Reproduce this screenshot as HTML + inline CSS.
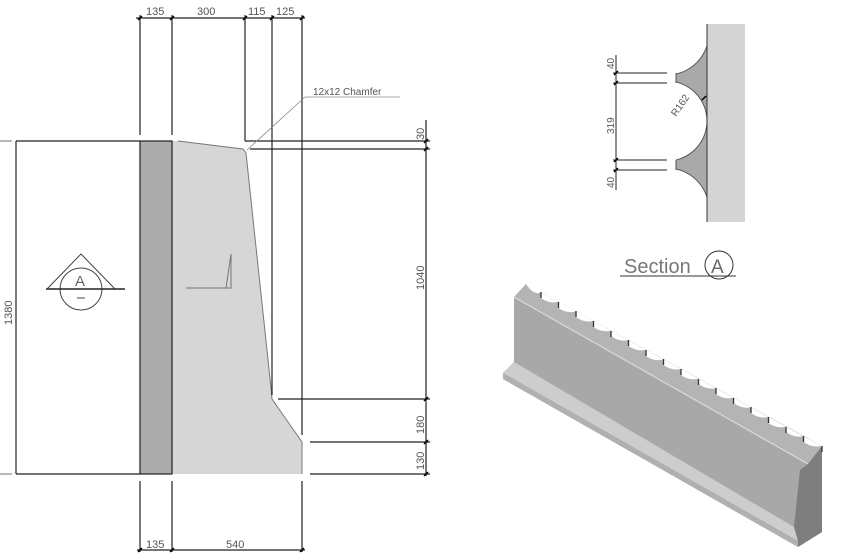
<!DOCTYPE html>
<html><head><style>html,body{margin:0;padding:0;background:#fff}svg{display:block}</style></head><body>
<svg width="850" height="557" viewBox="0 0 850 557" xmlns="http://www.w3.org/2000/svg" font-family="Liberation Sans, sans-serif">
<defs><clipPath id="wl"><rect x="676" y="24" width="31" height="198"/></clipPath></defs>
<!-- elevation -->
<rect x="140" y="141" width="32" height="333" fill="#acacac"/>
<polygon points="172,141 178,141 243,149 246,153 271,388 272,399 302,442 302,474 172,474" fill="#d6d6d6"/>
<polyline points="178,141 243,149 246,153 271,388 272,399 302,442 302,474" fill="none" stroke="#777" stroke-width="1"/>
<g stroke="#222" stroke-width="1.2" fill="none">
<rect x="140" y="141" width="32" height="333"/>
<line x1="0" y1="141" x2="12" y2="141" stroke="#888"/>
<line x1="16" y1="141" x2="140" y2="141"/>
<line x1="16" y1="474" x2="140" y2="474"/>
<line x1="0" y1="474" x2="12" y2="474" stroke="#888"/>
<line x1="16" y1="141" x2="16" y2="474"/>
<line x1="140" y1="15" x2="140" y2="135"/>
<line x1="172" y1="15" x2="172" y2="135"/>
<line x1="245" y1="15" x2="245" y2="141"/>
<line x1="272" y1="15" x2="272" y2="395"/>
<line x1="302" y1="15" x2="302" y2="435"/>
<line x1="136" y1="18" x2="305" y2="18"/>
<line x1="140" y1="481" x2="140" y2="552"/>
<line x1="172" y1="481" x2="172" y2="552"/>
<line x1="302" y1="481" x2="302" y2="552"/>
<line x1="137" y1="550" x2="305" y2="550"/>
<line x1="245" y1="141" x2="430" y2="141"/>
<line x1="250" y1="149" x2="430" y2="149"/>
<line x1="278" y1="399" x2="430" y2="399"/>
<line x1="310" y1="442" x2="430" y2="442"/>
<line x1="310" y1="474" x2="430" y2="474"/>
<line x1="426" y1="120" x2="426" y2="476"/>
</g>
<g stroke="#000" stroke-width="1.5">
<path d="M138 20l4-4M170 20l4-4M243 20l4-4M270 20l4-4M300 20l4-4M138 552l4-4M170 552l4-4M300 552l4-4M424 143l4-4M424 151l4-4M424 401l4-4M424 444l4-4M424 476l4-4"/>
</g>
<line x1="247" y1="150" x2="305" y2="97" stroke="#888" stroke-width="0.8"/>
<line x1="305" y1="97" x2="400" y2="97" stroke="#888" stroke-width="0.8"/>
<g fill="#555" font-size="11">
<text x="146" y="15">135</text><text x="197" y="15">300</text><text x="248" y="15">115</text><text x="276" y="15">125</text>
<text x="146" y="548">135</text><text x="226" y="548">540</text>
<text x="313" y="95" font-size="10">12x12  Chamfer</text>
<text transform="translate(12,325) rotate(-90)">1380</text>
<text transform="translate(424,140) rotate(-90)">30</text>
<text transform="translate(424,290) rotate(-90)">1040</text>
<text transform="translate(424,434) rotate(-90)">180</text>
<text transform="translate(424,470) rotate(-90)">130</text>
</g>
<g stroke="#444" fill="none" stroke-width="1">
<polyline points="47,289 81,254 115,289"/>
<circle cx="81" cy="289" r="21"/>
<line x1="46" y1="289" x2="125" y2="289" stroke="#222" stroke-width="1.5"/>
<line x1="77" y1="298" x2="85" y2="298"/>
<polyline points="186,288 231,288 231,254 226,288" stroke="#777"/>
</g>
<text x="75" y="286" font-size="15" fill="#666">A</text>
<!-- section A -->
<rect x="707" y="24" width="38" height="198" fill="#d4d4d4"/>
<rect x="676" y="24" width="31" height="198" fill="#a9a9a9"/>
<g clip-path="url(#wl)" fill="#fff" stroke="#555" stroke-width="1">
<circle cx="667" cy="33" r="42"/>
<circle cx="667" cy="121" r="40"/>
<circle cx="667" cy="210" r="42"/>
</g>
<line x1="676" y1="73" x2="676" y2="83" stroke="#555"/>
<line x1="676" y1="160" x2="676" y2="170" stroke="#555"/>
<line x1="707" y1="24" x2="707" y2="222" stroke="#333" stroke-width="1"/>
<g stroke="#222" stroke-width="1"><line x1="616" y1="55" x2="616" y2="190"/>
<line x1="613" y1="73" x2="667" y2="73"/><line x1="613" y1="83" x2="667" y2="83"/>
<line x1="613" y1="160" x2="667" y2="160"/><line x1="613" y1="170" x2="667" y2="170"/></g>
<g stroke="#000" stroke-width="1.5"><path d="M614 75l4-4M614 85l4-4M614 162l4-4M614 172l4-4M702 100l4-4"/></g>
<g fill="#555" font-size="10">
<text transform="translate(676,117) rotate(-55)">R162</text>
<text transform="translate(614,69) rotate(-90)">40</text>
<text transform="translate(614,134) rotate(-90)">319</text>
<text transform="translate(614,188) rotate(-90)">40</text>
</g>
<text x="624" y="273" font-size="20" fill="#777">Section</text>
<circle cx="719" cy="265" r="14" fill="none" stroke="#333"/>
<text x="711" y="273" font-size="19" fill="#666">A</text>
<line x1="620" y1="276" x2="736" y2="276" stroke="#333"/>
<!-- iso block -->
<polygon points="526,284 822,446 822,532 798,547 503,379 503,373 514,362 514,297" fill="#a8a8a8"/>
<polygon points="526,284 822,446 808,464 514,297" fill="#b4b4b4"/>
<line x1="514" y1="297" x2="808" y2="464" stroke="#dadada" stroke-width="1.2"/>
<polygon points="514,362 794,527 798,541 503,373" fill="#cdcdcd"/>
<polygon points="503,373 798,541 798,547 503,379" fill="#b0b0b0"/>
<polygon points="808,464 822,446 822,532 798,547 798,541 794,527 800,470" fill="#7e7e7e"/>
<g fill="#fff" stroke="none">
<path d="M524 283 L526 284 Q534 296 541 292.2 L541 280Z"/>
<path d="M541 292.2 L541 298 Q549 304 558.5 301.8Z"/>
<path d="M558.5 301.8 L558.5 308 Q567 314 576 311.4Z"/>
<path d="M576 311.4 L576 317 Q584 323 593.5 321Z"/>
<path d="M593.5 321 L593.5 327 Q602 333 611 330.6Z"/>
<path d="M611 330.6 L611 336 Q619 342 628.5 340.2Z"/>
<path d="M628.5 340.2 L628.5 346 Q637 352 646 349.8Z"/>
<path d="M646 349.8 L646 356 Q654 362 663.5 359.4Z"/>
<path d="M663.5 359.4 L663.5 365 Q672 371 681 369Z"/>
<path d="M681 369 L681 375 Q689 381 698.5 378.6Z"/>
<path d="M698.5 378.6 L698.5 384 Q707 390 716 388.2Z"/>
<path d="M716 388.2 L716 394 Q724 400 733.5 397.8Z"/>
<path d="M733.5 397.8 L733.5 403 Q742 409 751 407.4Z"/>
<path d="M751 407.4 L751 413 Q759 419 768.5 417Z"/>
<path d="M768.5 417 L768.5 423 Q777 429 786 426.6Z"/>
<path d="M786 426.6 L786 432 Q794 438 803.5 436.2Z"/>
<path d="M803.5 436.2 L803.5 442 Q812 448 822 446Z"/>
</g>
<g stroke="#333" stroke-width="1.3">
<path d="M541 292v6M558.5 302v6M576 311v6M593.5 321v6M611 331v6M628.5 340v6M646 350v6M663.5 359v6M681 369v6M698.5 379v6M716 388v6M733.5 398v6M751 407v6M768.5 417v6M786 427v6M803.5 436v6M822 446v6"/>
</g>
</svg>
</body></html>
